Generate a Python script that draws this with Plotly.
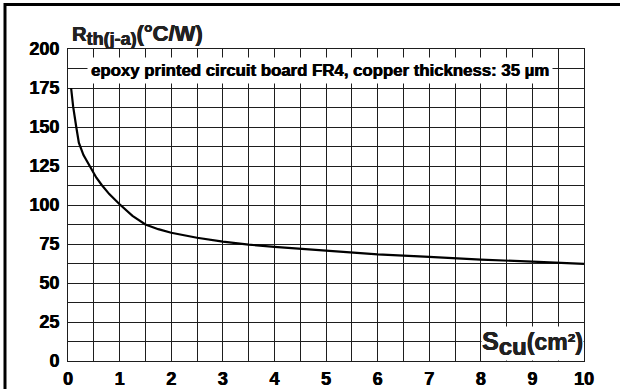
import plotly.graph_objects as go

# Copper area on the board (cm²) and junction-to-ambient thermal resistance (°C/W)
s_cu = [0.06, 0.1, 0.16, 0.21, 0.3, 0.43, 0.55, 0.65, 0.8, 1.0, 1.25, 1.5, 1.75,
        2.0, 2.5, 3.0, 3.5, 4.0, 4.5, 5.0, 5.5, 6.0, 7.0, 8.0, 9.0, 10.0]
r_th = [175, 163, 150, 140, 132, 124.5, 117.5, 113, 107, 100.5, 93, 87.5, 84.5,
        82.2, 79, 76.5, 74.6, 73.2, 72, 70.6, 69.2, 68.4, 66.8, 65, 63.7, 62.2]

x_ticks = list(range(0, 11))
y_ticks = [0, 25, 50, 75, 100, 125, 150, 175, 200]

FONT = "Liberation Sans, Arial, sans-serif"
GRID = "#1e1e1e"
HEAVY = "0.45px 0 0 #111, -0.2px 0 0 #111"


def bold_font(size, color="black"):
    return dict(family=FONT, size=size, color=color, weight="bold", shadow=HEAVY)


fig = go.Figure()
fig.add_trace(go.Scatter(
    x=s_cu, y=r_th, mode="lines",
    line=dict(color="black", width=2.2),
    hoverinfo="skip", showlegend=False,
))

axis_common = dict(
    showgrid=True, gridcolor=GRID, gridwidth=1,
    showline=True, linecolor=GRID, linewidth=1, mirror=True,
    zeroline=False, ticks="", automargin=False,
    tickfont=bold_font(18),
)

fig.update_xaxes(
    range=[0, 10], tickvals=x_ticks, ticktext=[f"<b>{v}</b>" for v in x_ticks],
    minor=dict(dtick=0.5, showgrid=True, gridcolor=GRID, gridwidth=1, ticks=""),
    ticklabelstandoff=1,
    **axis_common,
)
fig.update_yaxes(
    range=[0, 200], tickvals=y_ticks, ticktext=[f"<b>{v}</b>" for v in y_ticks],
    minor=dict(dtick=12.5, showgrid=True, gridcolor=GRID, gridwidth=1, ticks=""),
    ticklabelstandoff=4,
    **axis_common,
)

annotations = [
    dict(
        text="<b>epoxy printed circuit board FR4, copper thickness: 35 µm</b>",
        x=4.88, y=186.5, xref="x", yref="y", xanchor="center", yanchor="middle",
        showarrow=False, bgcolor="white", borderpad=3,
        font=bold_font(16.8),
    ),
    dict(
        text=("<b><span style='font-size:25px'>S</span>"
              "<sub><span style='font-size:24px'>cu</span></sub>"
              "<span style='font-size:23px'>(cm²)</span></b>"),
        x=10, y=11.5, xref="x", yref="y", xanchor="right", yanchor="middle",
        showarrow=False, bgcolor="white", borderpad=0,
        font=bold_font(23, "#222"),
    ),
    dict(
        text=("<b><span style='font-size:20px'>R</span>"
              "<sub><span style='font-size:18px'>th(j-a)</span></sub>"
              "<span style='font-size:22px'>(°C/W)</span></b>"),
        x=0.003, y=1.045, xref="paper", yref="paper", xanchor="left", yanchor="middle",
        showarrow=False,
        font=bold_font(20, "#222"),
    ),
]

# Page frame: heavy rule along the top and down the left side
shapes = [
    dict(type="line", xref="paper", yref="paper",
         x0=-0.1221, x1=1.1, y0=1.1426, y1=1.1426,
         line=dict(color="black", width=3)),
    dict(type="line", xref="paper", yref="paper",
         x0=-0.1221, x1=-0.1221, y0=1.1474, y1=-0.12,
         line=dict(color="black", width=3)),
]

fig.update_layout(
    width=620, height=389,
    margin=dict(l=68, r=36, t=49, b=28, autoexpand=False),
    paper_bgcolor="white", plot_bgcolor="white",
    annotations=annotations, shapes=shapes,
    showlegend=False,
)

fig.write_html("out.html")
